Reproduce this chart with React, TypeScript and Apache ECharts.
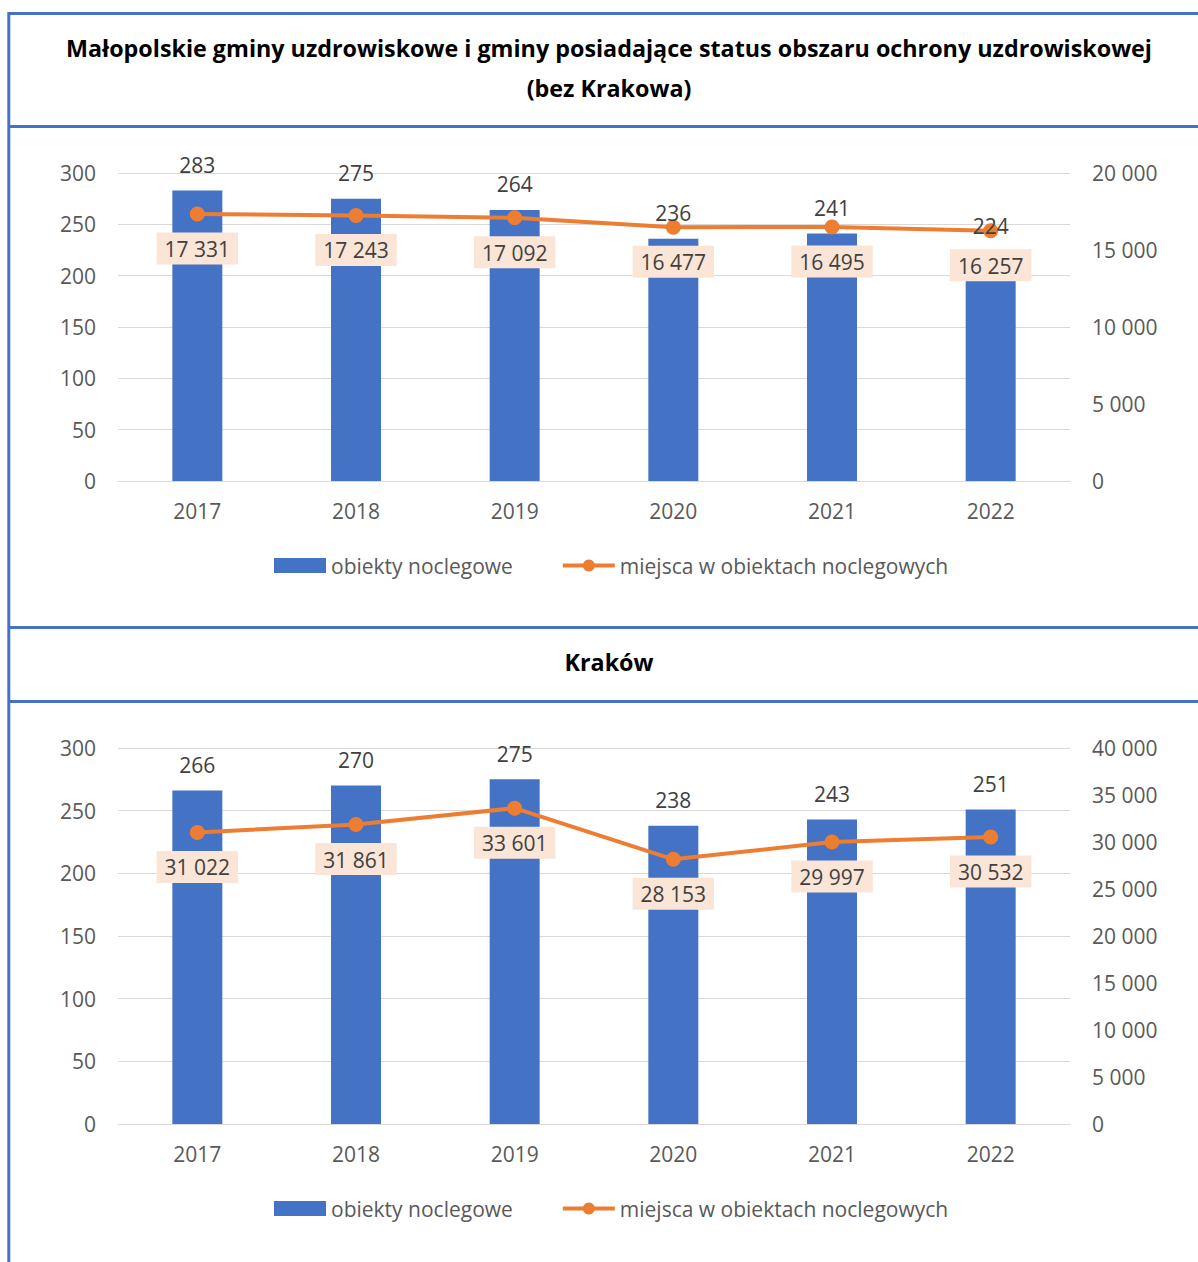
import React, { useEffect, useRef } from "react";
import * as echarts from "echarts";

const years = ["2017", "2018", "2019", "2020", "2021", "2022"];
const spaObjects = [283, 275, 264, 236, 241, 224];
const spaPlaces = [17331, 17243, 17092, 16477, 16495, 16257];
const krakowObjects = [266, 270, 275, 238, 243, 251];
const krakowPlaces = [31022, 31861, 33601, 28153, 29997, 30532];

const title1a = "Małopolskie gminy uzdrowiskowe i gminy posiadające status obszaru ochrony uzdrowiskowej";
const title1b = "(bez Krakowa)";
const title2 = "Kraków";
const barName = "obiekty noclegowe";
const lineName = "miejsca w obiektach noclegowych";

const BLUE = "#4472C4";
const ORANGE = "#ED7D31";
const FONT = "Open Sans";
const FS = 21;
const fmt = (n: number) => String(n).replace(/\B(?=(\d{3})+(?!\d))/g, " ");

export default function App() {
  const ref = useRef<HTMLDivElement>(null);
  useEffect(() => {
    const chart = echarts.init(ref.current!, null, { renderer: "svg" });
    const axisLabel = { color: "#595959", fontSize: FS, fontFamily: FONT };
    const grids = [
      { left: 118, width: 952, top: 173, height: 308 },
      { left: 118, width: 952, top: 748, height: 376 },
    ];
    const xAxis = [0, 1].map((i) => ({
      type: "category",
      gridIndex: i,
      data: years,
      axisTick: { show: false },
      axisLine: { lineStyle: { color: "#D9D9D9", width: 1 } },
      axisLabel: { ...axisLabel, margin: 19 },
    }));
    const yAxis: any[] = [];
    [0, 1].forEach((i) => {
      yAxis.push({
        type: "value",
        gridIndex: i,
        min: 0,
        max: 300,
        interval: 50,
        position: "left",
        axisLine: { show: false },
        axisTick: { show: false },
        splitLine: { lineStyle: { color: "#D9D9D9", width: 1 } },
        axisLabel: { ...axisLabel, margin: 22 },
      });
      yAxis.push({
        type: "value",
        gridIndex: i,
        min: 0,
        max: i === 0 ? 20000 : 40000,
        interval: 5000,
        position: "right",
        axisLine: { show: false },
        axisTick: { show: false },
        splitLine: { show: false },
        axisLabel: { ...axisLabel, margin: 22, formatter: (v: number) => fmt(v) },
      });
    });
    const mkSeries = (i: number, bars: number[], line: number[]) => [
      {
        type: "bar",
        name: barName,
        xAxisIndex: i,
        yAxisIndex: i * 2,
        data: bars,
        barWidth: 50,
        itemStyle: { color: BLUE },
        z: 2,
      },
      {
        type: "line",
        name: lineName,
        xAxisIndex: i,
        yAxisIndex: i * 2 + 1,
        data: line,
        symbol: "circle",
        symbolSize: 15,
        lineStyle: { color: ORANGE, width: 4 },
        itemStyle: { color: ORANGE },
        label: {
          show: true,
          position: "bottom",
          distance: 11,
          color: "#404040",
          fontSize: FS,
          fontFamily: FONT,
          backgroundColor: "#FBE5D6",
          padding: [6, 8, 5, 8],
          formatter: (p: any) => fmt(p.value),
        },
        z: 3,
      },
      {
        type: "scatter",
        name: barName + " (etykiety)",
        xAxisIndex: i,
        yAxisIndex: i * 2,
        data: bars,
        symbolSize: 0.01,
        silent: true,
        itemStyle: { color: BLUE, opacity: 1 },
        label: {
          show: true,
          position: "top",
          distance: 15,
          color: "#404040",
          opacity: 1,
          fontSize: FS,
          fontFamily: FONT,
        },
        z: 5,
      },
    ];
    const legend = (top: number) => ({
      left: 269,
      top,
      itemWidth: 52,
      itemHeight: 15,
      itemGap: 48,
      textStyle: { color: "#595959", fontSize: FS, fontFamily: FONT },
      data: [
        { name: barName, icon: "rect" },
        { name: lineName, lineStyle: { width: 4 } },
      ],
    });
    const hLine = (y: number) => ({
      type: "line",
      shape: { x1: 8, y1: y, x2: 1198, y2: y },
      style: { stroke: BLUE, lineWidth: 3 },
    });
    const titleText = (text: string, y: number) => ({
      type: "text",
      x: 609,
      y,
      style: {
        text,
        fill: "#000000",
        font: `bold 23.3px "${FONT}"`,
        textAlign: "center",
        textVerticalAlign: "middle",
      },
    });
    chart.setOption({
      animation: false,
      backgroundColor: "#ffffff",
      grid: grids,
      xAxis,
      yAxis,
      legend: [legend(550), legend(1193)],
      series: [...mkSeries(0, spaObjects, spaPlaces), ...mkSeries(1, krakowObjects, krakowPlaces)],
      graphic: [
        hLine(13.5),
        hLine(126.5),
        hLine(627.5),
        hLine(701.5),
        {
          type: "line",
          shape: { x1: 8.8, y1: 12, x2: 8.8, y2: 1262 },
          style: { stroke: BLUE, lineWidth: 3 },
        },
        titleText(title1a, 48),
        titleText(title1b, 88),
        titleText(title2, 662),
      ],
    });
    return () => chart.dispose();
  }, []);
  return (
    <div
      ref={ref}
      style={{ position: "absolute", left: 0, top: 0, width: 1198, height: 1262 }}
    />
  );
}
